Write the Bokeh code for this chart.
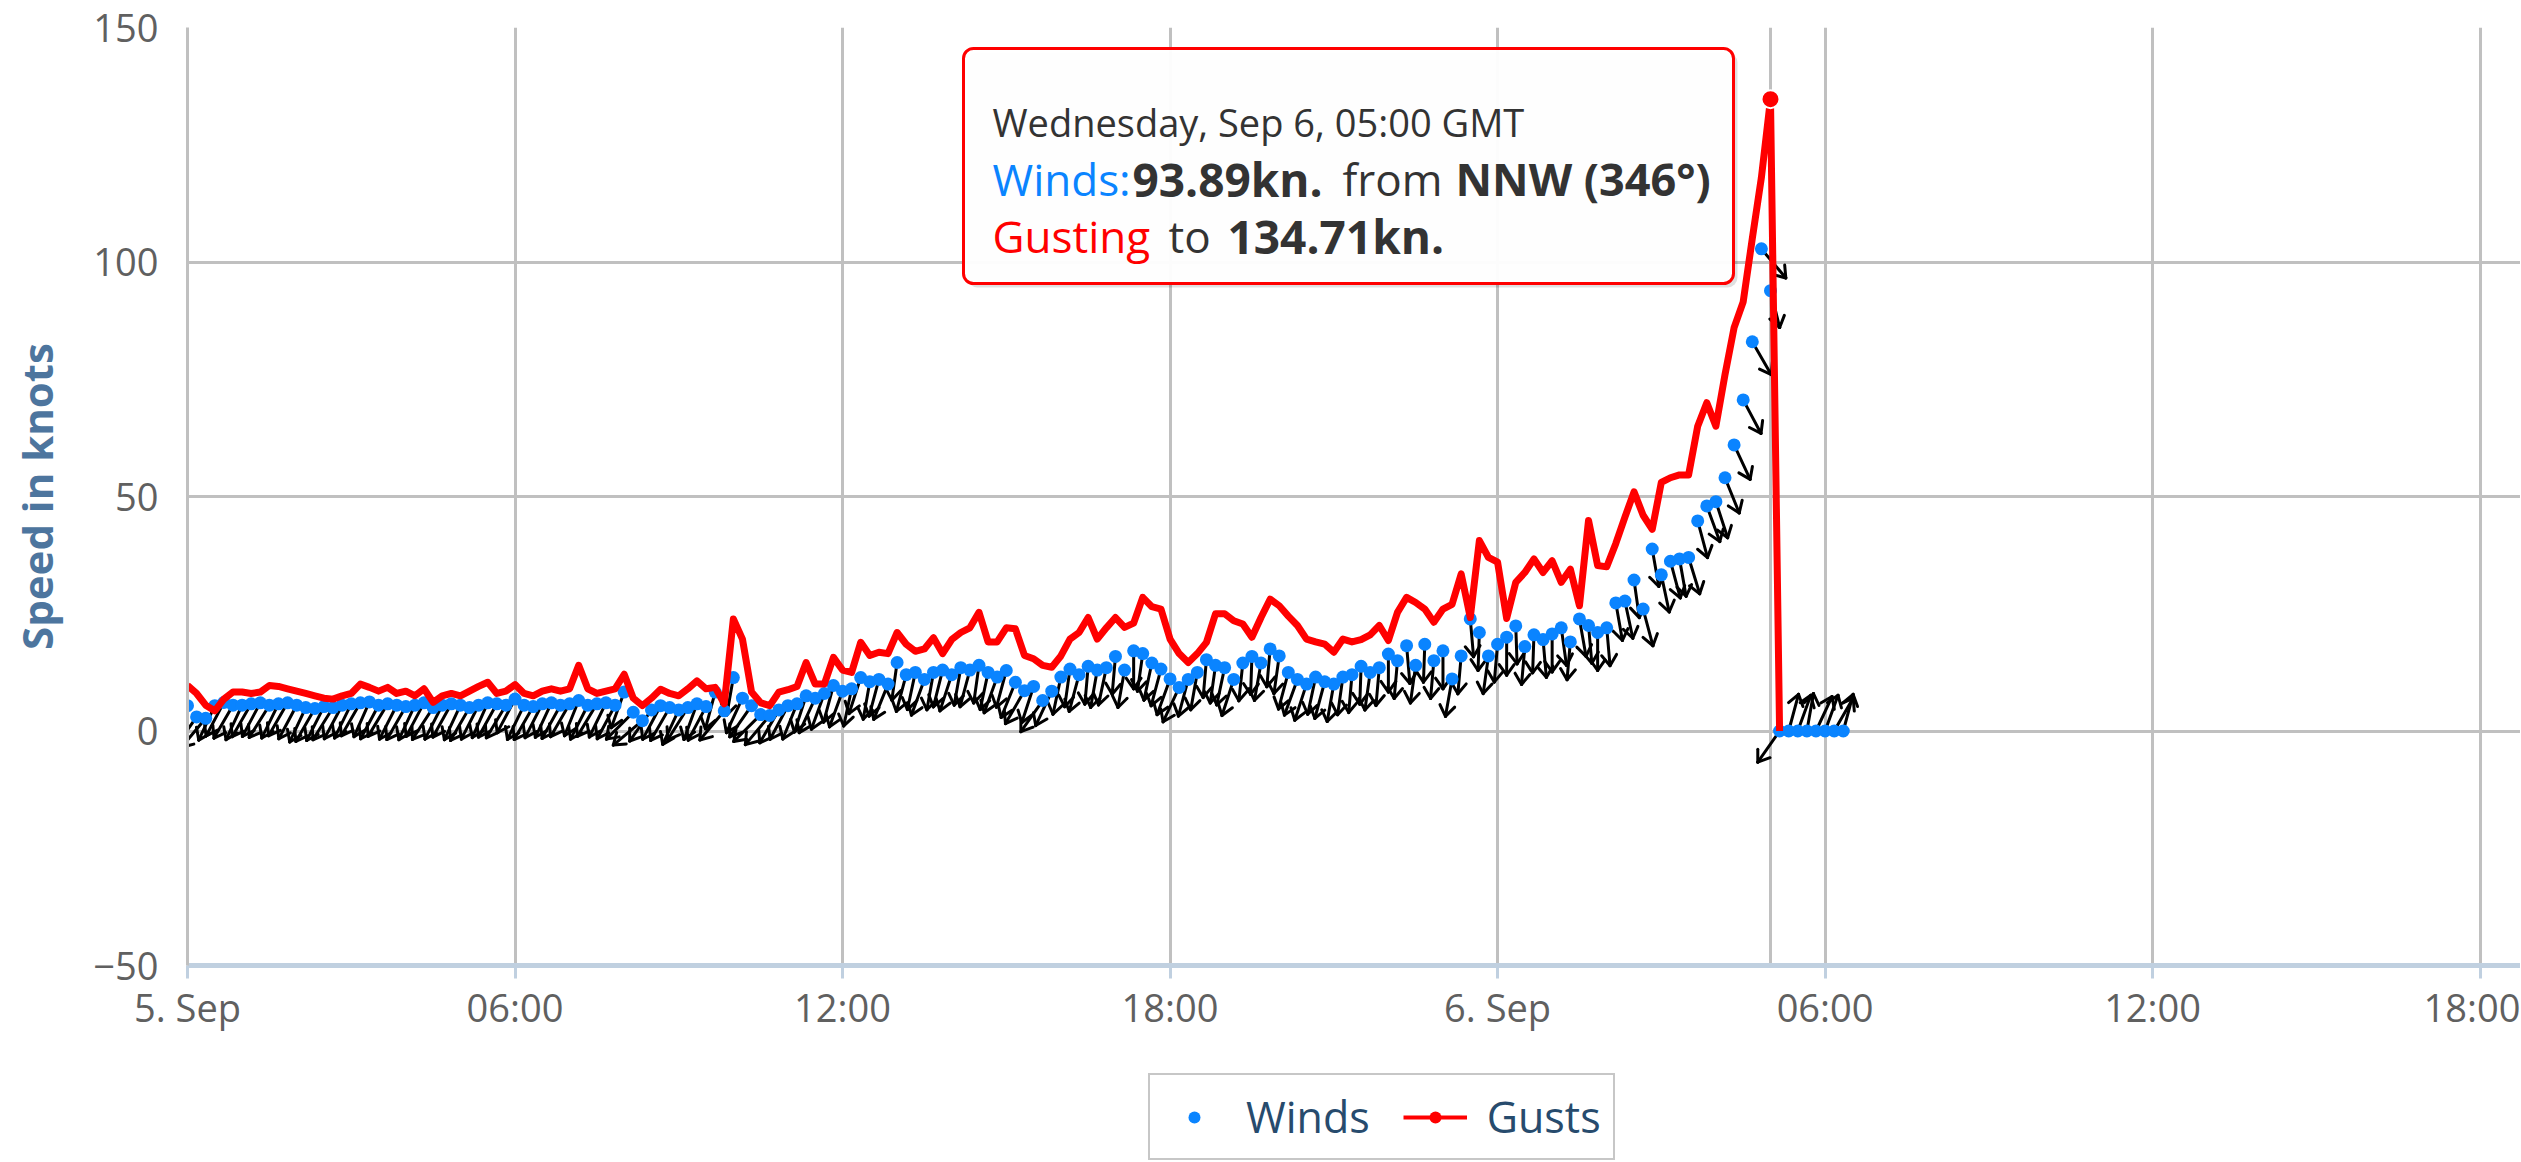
import numpy as np
import pandas as pd
from bokeh.plotting import figure
from bokeh.layouts import column
from bokeh.models import (Range1d, FixedTicker, Legend, LegendItem, Label,
                          BoxAnnotation, Span)
from bokeh.embed import file_html
from bokeh.resources import INLINE

# ---------------- data ----------------
START = pd.Timestamp("2017-09-05 00:00")
STEP_MIN = 10  # minutes between observations

WIND = [
    5.4, 3.0, 2.7, 5.4, 6.1, 5.5,
    5.5, 5.8, 6.0, 5.5, 5.8, 6.0,
    5.5, 5.0, 4.8, 5.2, 5.0, 5.5,
    5.8, 6.0, 6.2, 5.5, 5.8, 5.5,
    5.2, 5.5, 6.0, 5.0, 5.5, 5.8,
    5.5, 5.0, 5.5, 6.0, 5.8, 5.5,
    6.8, 5.5, 5.2, 5.8, 6.0, 5.5,
    5.8, 6.5, 5.5, 5.8, 6.0, 5.5,
    8.3, 4.0, 2.2, 4.5, 5.4, 5.0,
    4.5, 5.0, 5.8, 5.2, 8.3, 4.3,
    11.4, 7.0, 5.4, 3.5, 3.3, 4.5,
    5.4, 5.8, 7.5, 7.0, 8.0, 9.7,
    8.5, 9.0, 11.4, 10.5, 11.0, 10.0,
    14.6, 12.0, 12.5, 11.0, 12.5, 13.0,
    12.0, 13.5, 13.0, 14.0, 12.5, 11.5,
    12.9, 10.4, 8.6, 9.5, 6.5, 8.5,
    11.5, 13.2, 12.0, 13.8, 13.0, 13.5,
    15.9, 13.0, 17.1, 16.5, 14.5, 13.2,
    11.1, 9.3, 11.0, 12.5, 15.2, 14.0,
    13.5, 11.0, 14.5, 15.9, 14.5, 17.5,
    16.0, 12.5, 11.0, 10.0, 11.5, 10.5,
    10.0, 11.5, 12.0, 13.8, 12.5, 13.5,
    16.4, 15.0, 18.2, 14.0, 18.5, 15.0,
    17.1, 11.1, 16.0, 23.9, 21.0, 16.0,
    18.5, 20.0, 22.4, 18.0, 20.5, 19.5,
    20.7, 22.0, 19.0, 23.9, 22.5, 21.0,
    22.0, 27.3, 27.7, 32.2, 26.0, 38.8,
    33.3, 36.2, 36.7, 37.0, 44.8, 48.0,
    48.9, 54.0, 61.0, 70.6, 83.0, 102.8,
    93.89, 0.0, 0.0, 0.0, 0.0, 0.0,
    0.0, 0.0, 0.0,
]

GUST = [
    9.7, 8.0, 5.5, 4.3, 6.8, 8.3,
    8.3, 8.0, 8.3, 9.7, 9.5, 9.0,
    8.5, 8.0, 7.5, 7.0, 6.8, 7.5,
    8.0, 10.0, 9.3, 8.5, 9.3, 8.0,
    8.5, 7.5, 9.0, 6.1, 7.5, 8.0,
    7.5, 8.5, 9.5, 10.4, 8.0, 8.5,
    9.9, 8.0, 7.5, 8.5, 9.0, 8.5,
    9.0, 14.0, 9.0, 8.0, 8.5, 9.0,
    12.1, 7.0, 5.4, 7.0, 8.9, 8.0,
    7.5, 9.0, 10.7, 9.0, 9.3, 5.8,
    23.9, 19.6, 8.3, 6.0, 5.4, 8.3,
    8.8, 9.5, 14.6, 10.0, 10.0, 15.7,
    13.0, 12.5, 18.9, 16.1, 16.8, 16.5,
    21.0, 18.5, 17.0, 17.5, 19.9, 16.5,
    19.5, 21.0, 22.0, 25.3, 19.0, 19.0,
    22.0, 21.8, 16.1, 15.4, 14.0, 13.6,
    16.0, 19.6, 21.0, 24.2, 19.6, 22.0,
    24.2, 22.1, 23.0, 28.5, 26.5, 26.0,
    19.6, 16.5, 14.6, 16.5, 18.9, 25.0,
    25.0, 23.5, 22.8, 20.0, 24.2, 28.1,
    26.7, 24.5, 22.5, 19.6, 19.0, 18.5,
    16.8, 19.6, 19.0, 19.5, 20.5, 22.5,
    19.3, 25.3, 28.5, 27.4, 26.0, 23.2,
    26.0, 27.0, 33.5, 24.2, 40.6, 37.0,
    36.0, 24.0, 31.7, 33.8, 36.7, 33.8,
    36.3, 31.7, 34.5, 26.7, 44.9, 35.3,
    35.0, 40.0, 45.6, 51.0, 46.0, 43.0,
    53.0, 54.0, 54.6, 54.6, 65.0, 70.0,
    65.0, 76.0, 86.0, 91.5, 105.0, 118.0,
    134.71, 0.0,
]

# wind direction (degrees, "from")
DIR = [
    30, 35, 40, 25, 28, 30,
    25, 30, 28, 32, 26, 30,
    28, 25, 30, 27, 32, 28,
    26, 30, 24, 28, 31, 27,
    30, 25, 28, 33, 27, 29,
    25, 30, 27, 24, 29, 31,
    28, 26, 30, 27, 25, 29,
    30, 22, 27, 31, 26, 28,
    20, 45, 50, 35, 28, 30,
    25, 32, 20, 28, 15, 40,
    10, 25, 35, 45, 40, 30,
    28, 22, 18, 25, 20, 15,
    20, 12, 18, 10, 15, 22,
    8, 15, 12, 20, 10, 14,
    18, 10, 15, 8, 12, 20,
    15, 22, 30, 18, 35, 25,
    12, 8, 15, 5, 10, 12,
    5, 10, 0, 8, 12, 15,
    20, 25, 15, 10, 5, 8,
    12, 18, 6, 2, 10, 5,
    8, 15, 20, 18, 12, 15,
    10, 8, 5, 2, 8, 5,
    0, 5, 355, 8, 2, 5,
    0, 10, 5, 355, 2, 8,
    5, 0, 358, 5, 2, 355,
    0, 352, 5, 350, 355, 0,
    355, 350, 348, 352, 345, 350,
    348, 345, 350, 343, 345, 340,
    342, 338, 335, 332, 330, 320,
    346, 35, 195, 200, 190, 205,
    200, 210, 195,
]

SERIES_NAMES = ["Winds", "Gusts"]
X_TICK_HOURS = [0, 6, 12, 18, 24, 30, 36, 42]
X_TICK_LABELS = ["5. Sep", "06:00", "12:00", "18:00", "6. Sep", "06:00", "12:00", "18:00"]
Y_TICKS = [-50, 0, 50, 100, 150]
COMPASS = ["N", "NNE", "NE", "ENE", "E", "ESE", "SE", "SSE",
           "S", "SSW", "SW", "WSW", "W", "WNW", "NW", "NNW"]

# ---------------- layout constants ----------------
FRAME_W, FRAME_H = 2333, 938
X_SPAN_H = 42.74
Y_MIN, Y_MAX = -50, 150
FONT = "Open Sans"
BLUE = "#0a84ff"
RED = "#ff0000"
TOTAL_W = 2520
MAIN_BOTTOM = 75
LEG_H = 122

HOUR_MS = 3600 * 1000
t0 = START.value // 10**6
wind_t = t0 + np.arange(len(WIND)) * STEP_MIN * 60000
gust_t = t0 + np.arange(len(GUST)) * STEP_MIN * 60000

p = figure(frame_width=FRAME_W, frame_height=FRAME_H, x_axis_type="datetime",
           x_range=Range1d(t0, t0 + X_SPAN_H * HOUR_MS),
           y_range=Range1d(Y_MIN, Y_MAX),
           output_backend="svg", toolbar_location=None, title=None,
           min_border_left=187, min_border_right=0, min_border_top=27,
           min_border_bottom=MAIN_BOTTOM)
p.outline_line_color = None
p.background_fill_color = "white"
p.border_fill_color = "white"

# ---------------- axes ----------------
xticks = [t0 + h * HOUR_MS for h in X_TICK_HOURS]
xt = FixedTicker(ticks=xticks)
xax = p.xaxis[0]
xax.ticker = xt
p.xgrid.ticker = xt
xax.major_label_overrides = {int(tk): lab for tk, lab in zip(xticks, X_TICK_LABELS)}
xax.axis_line_color = "#C0D0E0"
xax.axis_line_width = 5
xax.major_tick_out = 13
xax.major_tick_in = 0
xax.major_tick_line_color = "#C0D0E0"
xax.major_tick_line_width = 3
xax.minor_tick_out = 0
xax.minor_tick_in = 0
xax.major_label_text_font = FONT
xax.major_label_text_font_size = "38px"
xax.major_label_text_color = "#606060"
xax.major_label_standoff = 2

yt = FixedTicker(ticks=Y_TICKS)
yax = p.yaxis[0]
yax.ticker = yt
p.ygrid.ticker = yt
yax.major_label_overrides = {-50: "\u221250"}
yax.axis_label = "Speed in knots"
yax.axis_label_text_font = FONT
yax.axis_label_text_font_size = "42px"
yax.axis_label_text_font_style = "bold"
yax.axis_label_text_color = "#4d759e"
yax.axis_label_standoff = 25
yax.major_label_text_font = FONT
yax.major_label_text_font_size = "38px"
yax.major_label_text_color = "#606060"
yax.major_label_standoff = 29
yax.major_tick_out = 0
yax.major_tick_in = 0
yax.minor_tick_out = 0
yax.minor_tick_in = 0
yax.axis_line_color = "#C0C0C0"
yax.axis_line_width = 3

for g in (p.xgrid, p.ygrid):
    g.grid_line_color = "#C0C0C0"
    g.grid_line_width = 3

# ---------------- hover crosshair at the peak ----------------
ipk = int(np.argmax(GUST))
pk_t = gust_t[ipk]
p.add_layout(Span(location=pk_t, dimension="height", line_color="#C0C0C0",
                  line_width=3, level="underlay"))

# ---------------- wind direction arrows ----------------
ms_per_px = X_SPAN_H * HOUR_MS / FRAME_W
kn_per_px = (Y_MAX - Y_MIN) / FRAME_H
SHAFT, HEAD, HANG = 38.0, 13.0, np.radians(35)
x0s, y0s, x1s, y1s = [], [], [], []
for t, v, d in zip(wind_t, WIND, DIR):
    a = np.radians(d)
    ux, uy = -np.sin(a), -np.cos(a)
    tx, ty = t + SHAFT * ux * ms_per_px, v + SHAFT * uy * kn_per_px
    x0s.append(t); y0s.append(v); x1s.append(tx); y1s.append(ty)
    bx, by = -ux, -uy
    for s in (HANG, -HANG):
        hx = bx * np.cos(s) - by * np.sin(s)
        hy = bx * np.sin(s) + by * np.cos(s)
        x0s.append(tx); y0s.append(ty)
        x1s.append(tx + HEAD * hx * ms_per_px); y1s.append(ty + HEAD * hy * kn_per_px)
p.segment(x0s, y0s, x1s, y1s, line_color="black", line_width=3, line_cap="round")

# ---------------- series ----------------
p.scatter(wind_t, WIND, size=13, fill_color=BLUE, line_color=None)
p.line(gust_t, GUST, line_color=RED, line_width=7, line_join="round")
p.scatter([pk_t], [GUST[ipk]], size=18, fill_color=RED, line_color="white", line_width=2)

# ---------------- tooltip ----------------
p.add_layout(BoxAnnotation(left=780, right=1550, top=913, bottom=678,
                           left_units="screen", right_units="screen",
                           top_units="screen", bottom_units="screen",
                           fill_color="#000000", fill_alpha=0.12, line_color=None,
                           border_radius=10, level="overlay"))
p.add_layout(BoxAnnotation(left=776, right=1546, top=917, bottom=682,
                           left_units="screen", right_units="screen",
                           top_units="screen", bottom_units="screen",
                           fill_color="white", fill_alpha=0.96, line_color=RED,
                           line_width=3, line_alpha=1, border_radius=10, level="overlay"))

ts = pd.Timestamp(pk_t, unit="ms")
w_pk, g_pk, d_pk = WIND[ipk], GUST[ipk], DIR[ipk]
card = COMPASS[int(round(d_pk / 22.5)) % 16]


def lab(text, x, y, size, color, bold=False):
    p.add_layout(Label(x=x, y=y, x_units="screen", y_units="screen", text=text,
                       text_font=FONT, text_font_size=f"{size}px", text_color=color,
                       text_font_style="bold" if bold else "normal",
                       text_baseline="alphabetic", text_align="left", level="overlay"))


lab(f"{ts:%A}, {ts:%b} {ts.day}, {ts:%H:%M} GMT", 805, 844, 38, "#333333")
lab("Winds:", 805, 787, 44, BLUE)
lab(f"{w_pk:.2f}kn.", 945, 787, 46, "#333333", True)
lab("from", 1155, 787, 44, "#333333")
lab(f"{card} ({d_pk}\u00b0)", 1268, 787, 45, "#333333", True)
lab("Gusting", 805, 730, 44, RED)
lab("to", 981, 730, 44, "#333333")
lab(f"{g_pk:.2f}kn.", 1040, 730, 46, "#333333", True)

# ---------------- legend strip (separate figure under the chart) ----------------
lf = figure(width=TOTAL_W, height=LEG_H, x_range=Range1d(0, 1), y_range=Range1d(0, 1),
            output_backend="svg", toolbar_location=None, title=None,
            x_axis_location=None, y_axis_location=None, min_border=0)
lf.outline_line_color = None
lf.xgrid.visible = False
lf.ygrid.visible = False
lf.background_fill_color = "white"
lf.border_fill_color = "white"
# legend proxies (kept outside the visible range of this strip)
lw = lf.scatter([-5], [-5], size=13, fill_color=BLUE, line_color=None)
lg = lf.line([-5, -4], [-5, -5], line_color=RED, line_width=4)
lgm = lf.scatter([-5], [-5], size=10, fill_color=RED, line_color=None)

legend = Legend(items=[LegendItem(label=SERIES_NAMES[0], renderers=[lw]),
                       LegendItem(label=SERIES_NAMES[1], renderers=[lg, lgm])],
                orientation="horizontal", location=(961, 2), margin=0,
                label_text_font=FONT, label_text_font_size="43px",
                label_text_color="#274b6d", glyph_width=64, glyph_height=30,
                label_height=42, label_standoff=20, spacing=33, padding=12,
                border_line_color="#909090", border_line_width=2,
                background_fill_color="white", background_fill_alpha=1)
lf.add_layout(legend)

layout = column(p, lf, spacing=0)
open("out.html", "w").write(file_html(layout, INLINE))
